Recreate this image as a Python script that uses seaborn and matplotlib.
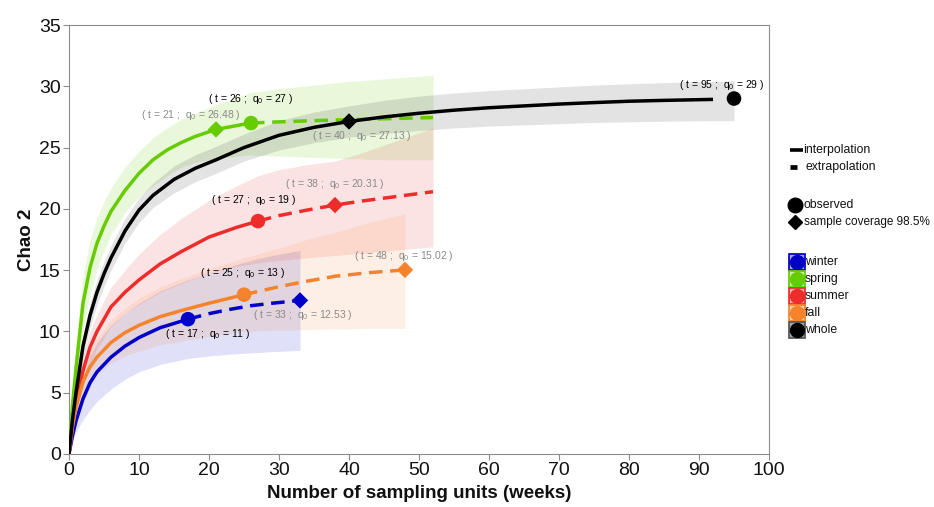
import matplotlib
matplotlib.use("Agg")
import matplotlib.pyplot as plt
from matplotlib.lines import Line2D
import numpy as np
import pandas as pd
import seaborn as sns

# ---------------------------------------------------------------------------
# Sample-size-based rarefaction / extrapolation of Chao 2 richness
# ---------------------------------------------------------------------------
seasons = ["winter", "spring", "summer", "fall", "whole"]
colors = ["#0000c8", "#66cc00", "#ee2c2c", "#f5832b", "#000000"]

# observed reference samples
obs_t = [17, 26, 27, 25, 95]
obs_q = [11, 27, 19, 13, 29]

# samples reaching 98.5 % coverage
cov_t = [33, 21, 38, 48, 40]
cov_q = [12.53, 26.48, 20.31, 15.02, 27.13]

# winter
winter_t = [0, 0.5, 1, 2, 3, 4, 6, 8, 10, 13, 17, 20, 23, 26, 29, 33]
winter_q = [0, 1.5, 2.7, 4.5, 5.8, 6.7, 7.9, 8.8, 9.5, 10.3, 11.0, 11.45, 11.8, 12.1, 12.3, 12.53]
winter_lo = [0, 1.0, 1.8, 2.8, 3.6, 4.3, 5.3, 6.1, 6.7, 7.3, 7.8, 8.0, 8.15, 8.25, 8.35, 8.45]
winter_hi = [0, 2.0, 3.6, 6.2, 8.0, 9.1, 10.5, 11.5, 12.3, 13.3, 14.2, 14.8, 15.3, 15.8, 16.2, 16.6]

# spring
spring_t = [0, 0.5, 1, 2, 3, 4, 5, 6, 8, 10, 12, 14, 16, 18, 21, 24, 26, 30, 35, 40, 45, 52]
spring_q = [0, 4.0, 7.0, 12.3, 15.2, 17.2, 18.6, 19.8, 21.5, 22.9, 24.0, 24.8, 25.4, 25.9,
            26.48, 26.8, 27.0, 27.1, 27.2, 27.27, 27.35, 27.45]
spring_lo = [0, 2.8, 5.0, 10.0, 13.0, 15.1, 16.6, 17.9, 19.7, 21.0, 21.9, 22.7, 23.4, 23.8,
             24.1, 24.3, 24.4, 24.3, 24.2, 24.1, 24.0, 24.0]
spring_hi = [0, 5.5, 9.0, 14.6, 17.4, 19.3, 20.6, 21.7, 23.4, 24.7, 25.8, 26.6, 27.3, 27.8,
             28.5, 29.1, 29.5, 29.8, 30.1, 30.4, 30.6, 30.9]

# summer
summer_t = [0, 0.5, 1, 2, 3, 4, 6, 8, 10, 13, 16, 20, 24, 27, 30, 34, 38, 42, 46, 52]
summer_q = [0, 2.5, 4.3, 6.8, 8.7, 10.0, 12.0, 13.2, 14.2, 15.5, 16.5, 17.7, 18.5, 19.0,
            19.45, 19.9, 20.31, 20.65, 20.95, 21.4]
summer_lo = [0, 2.0, 3.4, 5.6, 7.4, 8.6, 10.4, 11.5, 12.2, 13.2, 13.9, 14.8, 15.3, 15.6,
             15.8, 16.0, 16.2, 16.4, 16.6, 16.9]
summer_hi = [0, 3.0, 5.2, 8.0, 10.0, 11.4, 13.6, 15.0, 16.3, 17.9, 19.2, 20.7, 21.9, 22.7,
             23.2, 23.6, 23.9, 24.6, 25.4, 26.6]

# fall
fall_t = [0, 0.5, 1, 2, 3, 4, 6, 8, 10, 13, 16, 20, 25, 30, 34, 38, 43, 48]
fall_q = [0, 2.2, 3.8, 5.9, 7.1, 7.9, 9.1, 9.9, 10.5, 11.2, 11.7, 12.3, 13.0, 13.65, 14.1,
          14.5, 14.8, 15.02]
fall_lo = [0, 1.7, 3.0, 4.8, 5.8, 6.5, 7.4, 8.0, 8.4, 8.9, 9.2, 9.6, 10.0, 10.1, 10.15,
           10.2, 10.25, 10.25]
fall_hi = [0, 2.7, 4.6, 7.0, 8.4, 9.4, 10.9, 11.9, 12.7, 13.6, 14.3, 15.1, 16.0, 16.8, 17.5,
           18.1, 18.9, 19.6]

# whole year
whole_t = [0, 0.5, 1, 2, 3, 4, 5, 6, 8, 10, 12, 15, 18, 21, 25, 30, 35, 40, 45, 50, 55, 60,
           65, 70, 75, 80, 85, 92, 95]
whole_q = [0, 2.8, 5.0, 8.8, 11.3, 13.2, 14.7, 16.0, 18.2, 19.9, 21.1, 22.4, 23.3, 24.0,
           25.0, 26.0, 26.65, 27.13, 27.5, 27.8, 28.05, 28.25, 28.4, 28.55, 28.67, 28.78,
           28.85, 28.93, 29.0]
whole_lo = [0, 2.3, 4.3, 7.9, 10.3, 12.2, 13.7, 15.0, 17.2, 18.9, 20.1, 21.3, 22.2, 22.9,
            23.9, 24.8, 25.4, 25.85, 26.15, 26.4, 26.6, 26.75, 26.85, 26.95, 27.05, 27.1,
            27.15, 27.2, 27.2]
whole_hi = [0, 3.3, 5.7, 9.7, 12.3, 14.2, 15.7, 17.0, 19.2, 20.9, 22.1, 23.5, 24.4, 25.1,
            26.1, 27.2, 27.9, 28.4, 28.85, 29.2, 29.45, 29.65, 29.8, 29.95, 30.1, 30.2,
            30.3, 30.4, 30.45]
whole_line_end = 92

curves = {
    "winter": (winter_t, winter_q, winter_lo, winter_hi),
    "spring": (spring_t, spring_q, spring_lo, spring_hi),
    "summer": (summer_t, summer_q, summer_lo, summer_hi),
    "fall": (fall_t, fall_q, fall_lo, fall_hi),
    "whole": (whole_t, whole_q, whole_lo, whole_hi),
}

frames = []
for s in seasons:
    t, q, lo, hi = curves[s]
    frames.append(pd.DataFrame({"season": s, "t": t, "q": q, "lo": lo, "hi": hi}))
df = pd.concat(frames, ignore_index=True)
pal = dict(zip(seasons, colors))
band_alpha = {"winter": 0.12, "spring": 0.14, "summer": 0.13, "fall": 0.12, "whole": 0.11}

# ---------------------------------------------------------------------------
sns.set_theme(style="white")
plt.rcParams["font.family"] = ["Liberation Sans", "DejaVu Sans"]
plt.rcParams["mathtext.fontset"] = "custom"
plt.rcParams["mathtext.rm"] = "Liberation Sans"
plt.rcParams["mathtext.it"] = "Liberation Sans:italic"

W, H = 934, 507
fig = plt.figure(figsize=(W / 100, H / 100), dpi=100)
ax = fig.add_axes([69 / W, 1 - 454 / H, 700 / W, (454 - 25) / H])

# confidence bands
for s in seasons:
    d = df[df.season == s]
    ax.fill_between(d.t, d.lo, d.hi, color=pal[s], alpha=band_alpha[s], lw=0, zorder=1)

dash = (0, (3.9, 2.2))
LW = 2.5
for i, s in enumerate(seasons):
    d = df[df.season == s]
    interp = d[d.t <= obs_t[i]]
    if s == "whole":
        interp = d[d.t <= whole_line_end]
    sns.lineplot(data=interp, x="t", y="q", color=pal[s], lw=LW, ax=ax,
                 estimator=None, sort=False, errorbar=None, zorder=3,
                 solid_capstyle="butt")
    extra = d[d.t >= obs_t[i]]
    if len(extra) > 1:
        sns.lineplot(data=extra, x="t", y="q", color=pal[s], lw=LW, ax=ax,
                     estimator=None, sort=False, errorbar=None, zorder=3,
                     linestyle=dash, dash_capstyle="butt")

pts = pd.DataFrame({"season": seasons, "obs_t": obs_t, "obs_q": obs_q,
                    "cov_t": cov_t, "cov_q": cov_q})
sns.scatterplot(data=pts, x="obs_t", y="obs_q", hue="season", palette=pal, marker="o",
                s=110, linewidth=0, legend=False, ax=ax, zorder=5)
sns.scatterplot(data=pts, x="cov_t", y="cov_q", hue="season", palette=pal, marker="D",
                s=70, linewidth=0, legend=False, ax=ax, zorder=5)

# point labels
obs_off = {"winter": (20, -15), "spring": (0, 24), "summer": (-4, 21),
           "fall": (-1, 22), "whole": (-12, 13.5)}
cov_off = {"winter": (3, -15), "spring": (-25, 14), "summer": (0, 21),
           "fall": (-1, 14), "whole": (12.5, -15)}


def fmt(v):
    return f"{v:g}"


for i, s in enumerate(seasons):
    ax.annotate(f"( t = {obs_t[i]} ;  q$_0$ = {fmt(obs_q[i])} )", (obs_t[i], obs_q[i]),
                xytext=obs_off[s], textcoords="offset pixels", ha="center", va="center",
                fontsize=7.5, color="#000000", zorder=6)
    ax.annotate(f"( t = {cov_t[i]} ;  q$_0$ = {fmt(cov_q[i])} )", (cov_t[i], cov_q[i]),
                xytext=cov_off[s], textcoords="offset pixels", ha="center", va="center",
                fontsize=7.5, color="#8a8a8a", zorder=6)

# axes styling
ax.set_xlim(0, 100)
ax.set_ylim(0, 35)
ax.set_xticks(range(0, 101, 10))
ax.set_yticks(range(0, 36, 5))
for sp in ax.spines.values():
    sp.set_visible(True)
    sp.set_color("#8c8c8c")
    sp.set_linewidth(0.8)
ax.tick_params(axis="both", direction="out", length=4, width=0.8, color="#8c8c8c",
               labelsize=14, labelcolor="#111111", pad=2, bottom=True, left=True)
ax.set_xlabel("Number of sampling units (weeks)", fontsize=13.5, fontweight="bold",
              color="#111111")
ax.set_ylabel("Chao 2", fontsize=13.5, fontweight="bold", color="#111111")
ax.xaxis.set_label_coords(0.5, -0.072)
ax.yaxis.set_label_coords(-0.048, 0.5)
ax.grid(False)


# legend keys placed in pixel coordinates to the right of the panel
def fx(x):
    return x / W


def fy(y):
    return 1 - y / H


def key(xs, ys, **kw):
    fig.add_artist(Line2D([fx(x) for x in xs], [fy(y) for y in ys],
                          transform=fig.transFigure, **kw))


def label(x, y, text, size=8.8):
    fig.text(fx(x), fy(y), text, fontsize=size, va="center", ha="left", color="#111111")


key([790, 803], [150, 150], color="black", lw=2.6, solid_capstyle="butt")
label(803, 150, "interpolation")
key([790, 797], [167, 167], color="black", lw=3.4, solid_capstyle="butt")
label(806, 167, "extrapolation")

key([795], [205], marker="o", ms=10.5, color="black", lw=0)
label(803, 205, "observed")
key([795], [222], marker="D", ms=7.5, color="black", lw=0)
label(804, 222, "sample coverage 98.5%", size=8.5)

for i, s in enumerate(seasons):
    y = 262 + 17 * i
    edge = "#555555" if s == "whole" else pal[s]
    key([797], [y], marker="s", ms=12, markerfacecolor=pal[s], markeredgecolor=edge,
        markeredgewidth=1.2, alpha=0.35, lw=0)
    key([797], [y], marker="s", ms=12, markerfacecolor="none", markeredgecolor=edge,
        markeredgewidth=1.2, lw=0)
    key([797], [y], marker="o", ms=10, color=pal[s], lw=0)
    label(805, y, s)

fig.savefig("out.png", dpi=100, facecolor="white")
